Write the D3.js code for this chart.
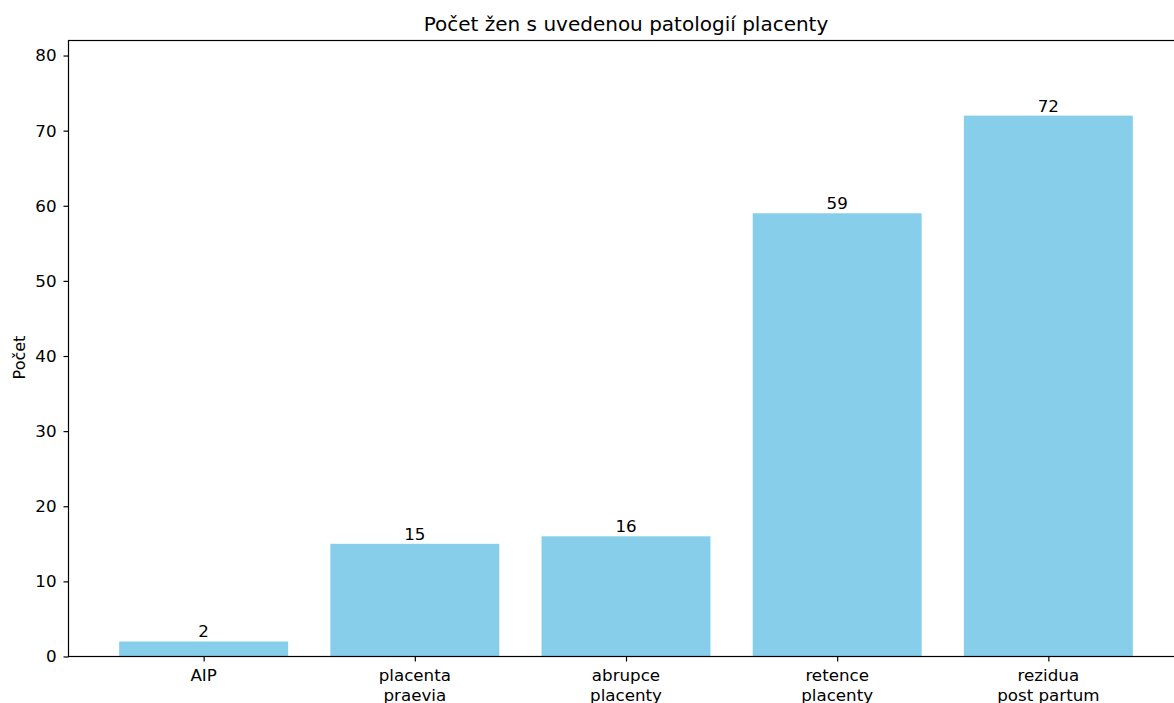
<!DOCTYPE html>
<html><head><meta charset="utf-8">
<script src="https://cdn.jsdelivr.net/npm/d3@7"></script>
<style>
body{margin:0;background:#fff;}
text{font-family:"DejaVu Sans",sans-serif;fill:#000;}
</style></head>
<body><svg id="c" width="1174" height="703"></svg>
<script>
const categories = [["AIP"],["placenta","praevia"],["abrupce","placenty"],["retence","placenty"],["rezidua","post partum"]];
const values = [2,15,16,59,72];
const yTicks = [0,10,20,30,40,50,60,70,80];
const title = "Počet žen s uvedenou patologií placenty";
const yLabel = "Počet";

const svg = d3.select("#c");
const mL = 68.5, mR = 1183.5, mT = 40.5, mB = 656.5;
const x = d3.scaleLinear().domain([-0.64, 4.64]).range([mL, mR]);
const y = d3.scaleLinear().domain([0, 82]).range([mB, mT]);
const bw = x(0.4) - x(-0.4);

svg.selectAll("rect.bar").data(values).enter().append("rect")
  .attr("class","bar")
  .attr("x",(d,i)=>x(i-0.4)).attr("width",bw)
  .attr("y",d=>y(d)).attr("height",d=>y(0)-y(d))
  .attr("fill","#87CEEB");

svg.selectAll("text.val").data(values).enter().append("text")
  .attr("class","val")
  .attr("x",(d,i)=>x(i)).attr("y",d=>y(d)-4)
  .attr("text-anchor","middle").attr("font-size","16.7px")
  .text(d=>d);

// axes
const yAxis = d3.axisLeft(y).tickValues(yTicks).tickSize(5).tickPadding(7);
const gy = svg.append("g").attr("transform",`translate(${mL},0)`).call(yAxis);
gy.selectAll("text").attr("font-size","16.7px").attr("font-family","DejaVu Sans").attr("fill","#000");
gy.select(".domain").remove();
gy.selectAll("line").attr("stroke","#000").attr("stroke-width",1.2);

const xAxis = d3.axisBottom(x).tickValues(d3.range(categories.length)).tickSize(5).tickFormat("");
const gx = svg.append("g").attr("transform",`translate(0,${mB})`).call(xAxis);
gx.select(".domain").remove();
gx.selectAll("line").attr("stroke","#000").attr("stroke-width",1.2);

categories.forEach((lines,i)=>{
  const t = svg.append("text").attr("x",x(i)).attr("y",mB+24.5)
    .attr("text-anchor","middle").attr("font-size","16.7px");
  lines.forEach((l,j)=>t.append("tspan").attr("x",x(i)).attr("dy",j?19.5:0).text(l));
});

// spines
svg.append("rect").attr("x",mL).attr("y",mT).attr("width",mR-mL).attr("height",mB-mT)
  .attr("fill","none").attr("stroke","#000").attr("stroke-width",1.2);

svg.append("text").attr("x",(mL+mR)/2).attr("y",31).attr("text-anchor","middle")
  .attr("font-size","20px").text(title);

svg.append("text").attr("transform",`translate(25,${(mT+mB)/2 + 9}) rotate(-90)`)
  .attr("text-anchor","middle").attr("font-size","16px").text(yLabel);
</script></body></html>
